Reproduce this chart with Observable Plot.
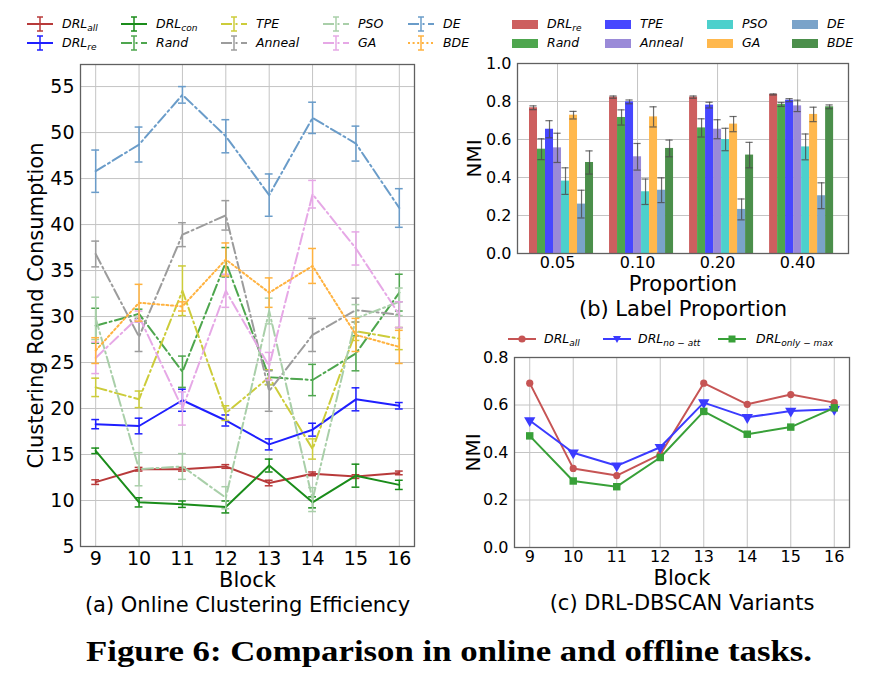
<!DOCTYPE html>
<html><head><meta charset="utf-8">
<script src="https://cdn.jsdelivr.net/npm/d3@7"></script>
<script src="https://cdn.jsdelivr.net/npm/@observablehq/plot@0.6"></script>
<style>
body{margin:0;background:#fff;width:874px;height:681px;position:relative;overflow:hidden;font-family:"DejaVu Sans",sans-serif;}
.abs{position:absolute;}
.leg{position:absolute;font-style:italic;font-size:12.5px;line-height:16px;white-space:nowrap;color:#000;}
.leg sub{font-size:0.72em;vertical-align:-0.3em;line-height:0}
</style></head><body>
<div id="pa" class="abs" style="left:0;top:0;width:460px;height:625px"></div>
<div id="pb" class="abs" style="left:460px;top:0;width:414px;height:320px"></div>
<div id="pc" class="abs" style="left:460px;top:320px;width:414px;height:300px"></div>
<div id="legends"></div>
<svg class="abs" style="left:0;top:620px" width="874" height="61"><text x="449" y="41" text-anchor="middle" font-family="Liberation Serif, serif" font-weight="bold" font-size="30" textLength="726" lengthAdjust="spacingAndGlyphs">Figure 6: Comparison in online and offline tasks.</text></svg>
<script>
// ---------- (a) Online Clustering Efficiency ----------
const blocks = [9, 10, 11, 12, 13, 14, 15, 16];
const yTicksA = [5, 10, 15, 20, 25, 30, 35, 40, 45, 50, 55];
const drlAll = [12.0, 13.4, 13.4, 13.7, 11.9, 12.9, 12.6, 13.0];
const drlAllErr = [0.25, 0.2, 0.2, 0.2, 0.3, 0.2, 0.2, 0.2];
const drlRe = [18.3, 18.1, 20.9, 18.7, 16.1, 17.7, 21.0, 20.3];
const drlReErr = [0.5, 0.85, 1.2, 0.6, 0.6, 0.7, 1.25, 0.35];
const drlCon = [15.4, 9.8, 9.6, 9.3, 13.8, 9.8, 12.7, 11.7];
const drlConErr = [0.3, 0.5, 0.35, 0.65, 0.7, 0.6, 1.25, 0.5];
const rand = [29.0, 30.3, 24.0, 35.9, 23.4, 23.1, 26.0, 32.6];
const randErr = [1.9, 0.5, 1.7, 1.6, 0.8, 1.7, 1.9, 2.0];
const tpe = [22.3, 21.0, 32.8, 19.5, 23.4, 15.6, 28.4, 27.6];
const tpeErr = [1.0, 0.9, 2.7, 0.8, 0.8, 1.1, 1.0, 1.2];
const anneal = [36.8, 27.8, 38.9, 41.0, 21.9, 28.0, 30.7, 30.2];
const annealErr = [1.4, 1.6, 1.3, 1.6, 2.2, 1.8, 1.3, 1.4];
const pso = [29.8, 13.4, 13.7, 10.3, 30.6, 10.1, 29.8, 31.6];
const psoErr = [2.3, 1.8, 1.4, 1.2, 1.4, 1.3, 1.5, 1.5];
const ga = [25.5, 30.0, 20.0, 32.8, 24.6, 43.3, 37.4, 30.2];
const gaErr = [1.7, 0.6, 1.8, 1.8, 1.5, 1.5, 1.8, 1.4];
const de = [45.8, 48.7, 54.1, 49.6, 43.2, 51.6, 48.8, 41.8];
const deErr = [2.3, 1.9, 0.9, 1.8, 2.3, 1.7, 1.9, 2.1];
const bde = [26.3, 31.5, 31.1, 36.2, 32.6, 35.5, 28.0, 26.7];
const bdeErr = [1.4, 2.0, 0.5, 1.8, 1.6, 1.9, 1.8, 1.8];

const seriesA = [
  {name: "DRL", sub: "all", v: drlAll, e: drlAllErr},
  {name: "DRL", sub: "re", v: drlRe, e: drlReErr},
  {name: "DRL", sub: "con", v: drlCon, e: drlConErr},
  {name: "Rand", sub: "", v: rand, e: randErr},
  {name: "TPE", sub: "", v: tpe, e: tpeErr},
  {name: "Anneal", sub: "", v: anneal, e: annealErr},
  {name: "PSO", sub: "", v: pso, e: psoErr},
  {name: "GA", sub: "", v: ga, e: gaErr},
  {name: "DE", sub: "", v: de, e: deErr},
  {name: "BDE", sub: "", v: bde, e: bdeErr}
];
// styles, in the same order
const DASHDOT = "11,3.5,2,3.5";
const stylesA = [
  {color: "#b83a3a", dash: null},
  {color: "#1f1fff", dash: null},
  {color: "#1a8c1a", dash: null},
  {color: "#4ea64e", dash: DASHDOT},
  {color: "#cccc3a", dash: DASHDOT},
  {color: "#9c9c9c", dash: DASHDOT},
  {color: "#a9cfa9", dash: DASHDOT},
  {color: "#e6a8e6", dash: DASHDOT},
  {color: "#6a9cc9", dash: DASHDOT},
  {color: "#ffb23f", dash: "2,2.6"}
];

// ---------- (b) Label Proportion ----------
const proportions = ["0.05", "0.10", "0.20", "0.40"];
const methodsB = [
  {name: "DRL", sub: "re"}, {name: "Rand", sub: ""}, {name: "TPE", sub: ""}, {name: "Anneal", sub: ""},
  {name: "PSO", sub: ""}, {name: "GA", sub: ""}, {name: "DE", sub: ""}, {name: "BDE", sub: ""}
];
const nmiDrlRe = [0.767, 0.823, 0.823, 0.837];
const errDrlRe = [0.01, 0.006, 0.006, 0.003];
const nmiRand = [0.549, 0.716, 0.661, 0.784];
const errRand = [0.055, 0.04, 0.048, 0.01];
const nmiTpe = [0.654, 0.798, 0.781, 0.807];
const errTpe = [0.045, 0.01, 0.015, 0.008];
const nmiAnneal = [0.556, 0.509, 0.654, 0.777];
const errAnneal = [0.077, 0.07, 0.05, 0.03];
const nmiPso = [0.381, 0.325, 0.600, 0.561];
const errPso = [0.07, 0.067, 0.059, 0.068];
const nmiGa = [0.728, 0.719, 0.681, 0.732];
const errGa = [0.02, 0.053, 0.04, 0.038];
const nmiDe = [0.260, 0.333, 0.232, 0.304];
const errDe = [0.073, 0.065, 0.055, 0.068];
const nmiBde = [0.479, 0.553, 0.518, 0.772];
const errBde = [0.061, 0.044, 0.067, 0.01];
const valuesB = [nmiDrlRe, nmiRand, nmiTpe, nmiAnneal, nmiPso, nmiGa, nmiDe, nmiBde];
const errorsB = [errDrlRe, errRand, errTpe, errAnneal, errPso, errGa, errDe, errBde];
const colorsB = ["#cd5f5f", "#4ea64e", "#4747ff", "#9a8ad8", "#4dd0cc", "#ffb84d", "#7aa3c9", "#4b8f4b"];
const yTicksB = [0, 0.2, 0.4, 0.6, 0.8, 1.0];

// ---------- (c) DRL-DBSCAN Variants ----------
const nmiAll = [0.692, 0.333, 0.303, 0.392, 0.692, 0.603, 0.644, 0.610];
const nmiNoAtt = [0.535, 0.399, 0.344, 0.422, 0.610, 0.548, 0.575, 0.582];
const nmiOnlyMax = [0.470, 0.280, 0.256, 0.379, 0.573, 0.477, 0.507, 0.588];
const yTicksC = [0, 0.2, 0.4, 0.6, 0.8];
const triDown = {draw(ctx, size) {
  const y = -Math.sqrt(size / (Math.sqrt(3) * 3)), s3 = Math.sqrt(3);
  ctx.moveTo(0, -y * 2); ctx.lineTo(-s3 * y, y); ctx.lineTo(s3 * y, y); ctx.closePath();
}};
const seriesC = [
  {name: "DRL", sub: "all", v: nmiAll, color: "#c65454", symbol: "circle"},
  {name: "DRL", sub: "no − att", v: nmiNoAtt, color: "#3b3bff", symbol: triDown},
  {name: "DRL", sub: "only − max", v: nmiOnlyMax, color: "#38a038", symbol: "square"}
];

const GRID = "#c4c4c4", FRAME = "#606060";
const baseStyle = {fontFamily: "DejaVu Sans, sans-serif", color: "#000", background: "transparent", overflow: "visible"};
const T = {text: d => d, textAnchor: "middle", lineAnchor: "middle"};

// ----- Plot (a)
const marksA = [
  Plot.gridX({ticks: blocks, stroke: GRID, strokeOpacity: 1, strokeWidth: 1}),
  Plot.gridY({ticks: yTicksA, stroke: GRID, strokeOpacity: 1, strokeWidth: 1})
];
seriesA.forEach((s, k) => {
  const st = stylesA[k];
  const rows = blocks.map((b, i) => ({block: b, value: s.v[i], err: s.e[i]}));
  const eo = {stroke: st.color, strokeWidth: 1.5};
  marksA.push(Plot.ruleX(rows, {x: "block", y1: d => d.value - d.err, y2: d => d.value + d.err, ...eo}));
  marksA.push(Plot.ruleY(rows, {y: d => d.value - d.err, x1: d => d.block - 0.09, x2: d => d.block + 0.09, ...eo}));
  marksA.push(Plot.ruleY(rows, {y: d => d.value + d.err, x1: d => d.block - 0.09, x2: d => d.block + 0.09, ...eo}));
  marksA.push(Plot.line(rows, {x: "block", y: "value", stroke: st.color, strokeWidth: 2,
    strokeDasharray: st.dash || undefined}));
});
marksA.push(
  Plot.frame({stroke: FRAME, strokeWidth: 1.3}),
  Plot.axisX({ticks: blocks, tickSize: 0, tickPadding: 5, fontSize: 19, label: null}),
  Plot.axisY({ticks: yTicksA, tickSize: 0, tickPadding: 6, fontSize: 19, label: null}),
  Plot.text(["Block"], {...T, frameAnchor: "bottom", dy: 34, fontSize: 21}),
  Plot.text(["(a) Online Clustering Efficiency"], {...T, frameAnchor: "bottom", dy: 59, fontSize: 21}),
  Plot.text(["Clustering Round Consumption"], {...T, frameAnchor: "left", dx: -44, rotate: -90, fontSize: 21})
);
document.getElementById("pa").append(Plot.plot({
  width: 460, height: 625, marginTop: 64, marginLeft: 80, marginRight: 46, marginBottom: 79,
  x: {domain: [8.65, 16.35]}, y: {domain: [5, 57.4]},
  style: baseStyle, marks: marksA
}));

// ----- Plot (b)
const marksB = [
  Plot.gridX({ticks: [0, 1, 2, 3], stroke: GRID, strokeOpacity: 1, strokeWidth: 1}),
  Plot.gridY({ticks: yTicksB, stroke: GRID, strokeOpacity: 1, strokeWidth: 1})
];
methodsB.forEach((m, j) => {
  const rows = proportions.map((p, i) => ({c: i + (j - 3) * 0.1, value: valuesB[j][i], err: errorsB[j][i]}));
  marksB.push(Plot.rectY(rows, {x1: d => d.c - 0.05, x2: d => d.c + 0.05, y1: 0, y2: "value", fill: colorsB[j]}));
});
methodsB.forEach((m, j) => {
  const rows = proportions.map((p, i) => ({c: i + (j - 3) * 0.1, value: valuesB[j][i], err: errorsB[j][i]}));
  const eo = {stroke: "#4a4a4a", strokeOpacity: 0.8, strokeWidth: 1.2};
  marksB.push(Plot.ruleX(rows, {x: "c", y1: d => d.value - d.err, y2: d => d.value + d.err, ...eo}));
  marksB.push(Plot.ruleY(rows, {y: d => d.value - d.err, x1: d => d.c - 0.045, x2: d => d.c + 0.045, ...eo}));
  marksB.push(Plot.ruleY(rows, {y: d => d.value + d.err, x1: d => d.c - 0.045, x2: d => d.c + 0.045, ...eo}));
});
marksB.push(
  Plot.frame({stroke: FRAME, strokeWidth: 1.3}),
  Plot.axisX({ticks: [0, 1, 2, 3], tickFormat: i => proportions[i], tickSize: 0, tickPadding: 3, fontSize: 16, label: null}),
  Plot.axisY({ticks: yTicksB, tickFormat: d3.format(".1f"), tickSize: 0, tickPadding: 6, fontSize: 16, label: null}),
  Plot.text(["Proportion"], {...T, frameAnchor: "bottom", dy: 31, fontSize: 21}),
  Plot.text(["(b) Label Proportion"], {...T, frameAnchor: "bottom", dy: 56, fontSize: 21}),
  Plot.text(["NMI"], {...T, frameAnchor: "left", dx: -43, rotate: -90, fontSize: 20})
);
document.getElementById("pb").append(Plot.plot({
  width: 414, height: 320, marginTop: 63, marginLeft: 57, marginRight: 26, marginBottom: 67,
  x: {domain: [-0.5, 3.636]}, y: {domain: [0, 1]},
  style: baseStyle, marks: marksB
}));

// ----- Plot (c)
const marksC = [
  Plot.gridX({ticks: blocks, stroke: GRID, strokeOpacity: 1, strokeWidth: 1}),
  Plot.gridY({ticks: yTicksC, stroke: GRID, strokeOpacity: 1, strokeWidth: 1})
];
seriesC.forEach(s => {
  const rows = blocks.map((b, i) => ({block: b, value: s.v[i]}));
  marksC.push(Plot.line(rows, {x: "block", y: "value", stroke: s.color, strokeWidth: 2}));
  marksC.push(Plot.dot(rows, {x: "block", y: "value", fill: s.color, r: s.symbol === "circle" ? 3.6 : 4.2, symbol: s.symbol}));
});
marksC.push(
  Plot.frame({stroke: FRAME, strokeWidth: 1.3}),
  Plot.axisX({ticks: blocks, tickSize: 0, tickPadding: 3, fontSize: 16, label: null}),
  Plot.axisY({ticks: yTicksC, tickFormat: d3.format(".1f"), tickSize: 0, tickPadding: 6, fontSize: 16, label: null}),
  Plot.text(["Block"], {...T, frameAnchor: "bottom", dy: 31, fontSize: 21}),
  Plot.text(["(c) DRL-DBSCAN Variants"], {...T, frameAnchor: "bottom", dy: 56, fontSize: 21}),
  Plot.text(["NMI"], {...T, frameAnchor: "left", dx: -41, rotate: -90, fontSize: 20})
);
document.getElementById("pc").append(Plot.plot({
  width: 414, height: 300, marginTop: 37, marginLeft: 54, marginRight: 25, marginBottom: 73,
  x: {domain: [8.65, 16.35]}, y: {domain: [0, 0.8]},
  style: baseStyle, marks: marksC
}));

// ----- Legends (HTML)
const L = document.getElementById("legends");
function label(s) { return s.name + (s.sub ? "<sub>" + s.sub + "</sub>" : ""); }
function addLegend(x, y, svg, textX, html) {
  const h = document.createElement("div");
  h.className = "leg"; h.style.left = x + "px"; h.style.top = (y - 9) + "px";
  h.innerHTML = svg; L.append(h);
  const t = document.createElement("div");
  t.className = "leg"; t.style.left = textX + "px"; t.style.top = (y - 8) + "px";
  t.innerHTML = html; L.append(t);
}
// (a): 5 columns x 2 rows, filled column-wise
const legAColX = [27, 121, 221, 323, 408], legARowY = [24, 43];
seriesA.forEach((s, k) => {
  const st = stylesA[k], col = Math.floor(k / 2), row = k % 2;
  const dash = st.dash ? `stroke-dasharray="${st.dash}"` : "";
  const svg = `<svg width="28" height="18" style="display:block"><line x1="0" y1="9" x2="26" y2="9" stroke="${st.color}" stroke-width="2" ${dash}/>` +
    `<line x1="13" y1="2" x2="13" y2="16" stroke="${st.color}" stroke-width="1.5"/>` +
    `<line x1="10" y1="2" x2="16" y2="2" stroke="${st.color}" stroke-width="1.5"/>` +
    `<line x1="10" y1="16" x2="16" y2="16" stroke="${st.color}" stroke-width="1.5"/></svg>`;
  addLegend(legAColX[col], legARowY[row], svg, legAColX[col] + 35, label(s));
});
// (b): 4 columns x 2 rows, column-wise
const legBColX = [512, 605, 707, 792], legBRowY = [24, 43];
methodsB.forEach((m, j) => {
  const col = Math.floor(j / 2), row = j % 2;
  const svg = `<svg width="28" height="18" style="display:block"><rect x="0" y="5" width="26" height="9" fill="${colorsB[j]}"/></svg>`;
  addLegend(legBColX[col], legBRowY[row], svg, legBColX[col] + 35, label(m));
});
// (c): one row
const legCX = [508, 603, 718], legCTextX = [544, 638, 756];
seriesC.forEach((s, k) => {
  let marker;
  if (k === 0) marker = `<circle cx="14" cy="9" r="3.6" fill="${s.color}"/>`;
  else if (k === 1) marker = `<path d="M10,6 L18,6 L14,13 Z" fill="${s.color}"/>`;
  else marker = `<rect x="10.5" y="5.5" width="7" height="7" fill="${s.color}"/>`;
  const svg = `<svg width="30" height="18" style="display:block"><line x1="0" y1="9" x2="28" y2="9" stroke="${s.color}" stroke-width="2"/>${marker}</svg>`;
  addLegend(legCX[k], 339, svg, legCTextX[k], label(s));
});
</script>
</body></html>
